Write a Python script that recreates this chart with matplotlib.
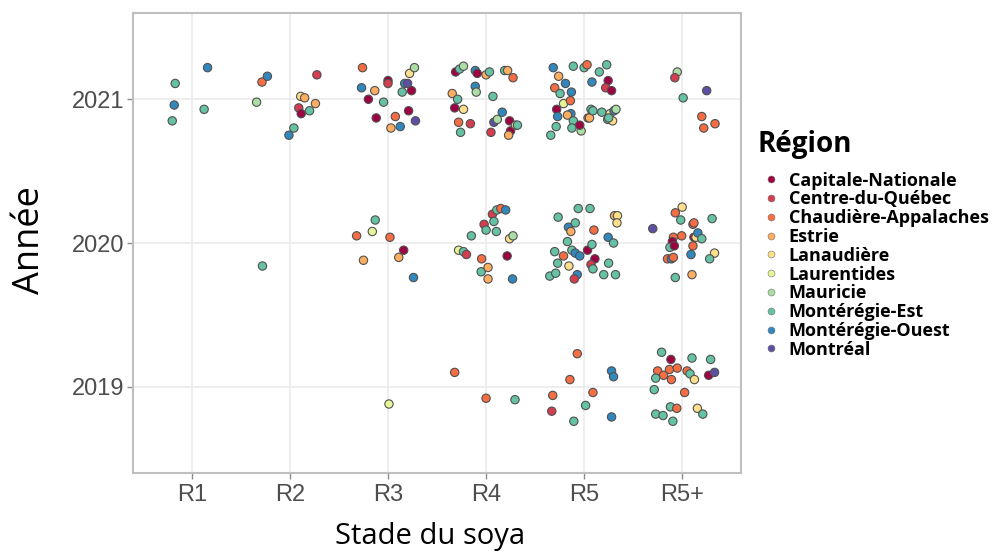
import matplotlib
matplotlib.use("Agg")
import matplotlib.pyplot as plt
from matplotlib.lines import Line2D

# ---------------- data ----------------
stages = ["R1", "R2", "R3", "R4", "R5", "R5+"]
years = [2019, 2020, 2021]
regions = ["Capitale-Nationale", "Centre-du-Québec", "Chaudière-Appalaches", "Estrie",
           "Lanaudière", "Laurentides", "Mauricie", "Montérégie-Est", "Montérégie-Ouest",
           "Montréal"]
region_codes = ["CN", "CQ", "CA", "ES", "LA", "LU", "MA", "ME", "MO", "MT"]
region_colors = ["#9E0142", "#D53E4F", "#F46D43", "#FDAE61", "#FEE08B",
                 "#E6F598", "#ABDDA4", "#66C2A5", "#3288BD", "#5E4FA2"]

# observations: stage, region code, stage jitter, jittered year
obs_stage = (
    ["R1"] * 5
    + ["R2"] * 13
    + ["R3"] * 28
    + ["R4"] * 52
    + ["R5"] * 80
    + ["R5+"] * 57
)
obs_region = [
    # R1
    "ME", "MO", "ME", "MO", "ME",
    # R2
    "MA", "CA", "MO", "MO", "ME", "CQ", "CN", "LA", "ES", "ME", "ES", "CQ", "ME",
    # R3
    "CA", "MO", "ES", "CN", "ME", "CN", "CN", "CQ", "CA", "ES", "MO", "MO", "MT", "ME",
    "CN", "CN", "MT", "LA", "MA",
    "CA", "ME", "LU", "CA", "ES", "CN", "ES", "MO",
    "LU",
    # R4
    "ES", "ME", "CN", "ME", "MA", "CN", "LA", "CA", "ME", "CQ", "MO", "CN", "MO", "MA",
    "ES", "ME", "ME", "CQ", "MT", "MA", "MO", "ME", "ES", "CA", "CN", "CN", "ES", "LA", "ME",
    "LU", "ME", "CQ", "ME", "CA", "ME", "ES", "ES", "CQ", "ME", "CQ", "ME", "ME", "CA",
    "MO", "ME", "CN", "MO", "LA", "MA",
    "CA", "CA", "ME",
    # R5
    "ME", "ME", "CN", "MO", "CA", "ES", "ME", "LU", "MO", "CA", "MO", "MO", "ES", "ME",
    "ME", "MA", "CN", "ME", "ME", "CA", "CA", "ES", "ME", "ME", "MO", "ME", "ME", "CN",
    "CQ", "CN", "ME", "ME", "LA", "LA", "MO", "MA", "ME",
    "ME", "ME", "ME", "ME", "ME", "CA", "LA", "ME", "MO", "ES", "ME", "ME", "ME", "MO",
    "MO", "MO", "CQ", "CN", "ME", "ME", "CA", "CN", "CQ", "ME", "ME", "ME", "ME", "MO",
    "ME", "ES", "LA", "LA",
    "CA", "CQ", "ME", "CA", "CA", "ME", "CA", "MO", "MO", "MO",
    # R5+
    "MO", "MA", "CQ", "ME", "MT", "CA", "CA", "CA",
    "MT", "CA", "LA", "ME", "CA", "CA", "CA", "CA", "CN", "ME", "CN", "CN", "LA", "MO",
    "ME", "CA", "CA", "MO", "CA", "ME", "ES", "MO", "ME", "LA", "ME",
    "ME", "CN", "CA", "CA", "CA", "CA", "ME", "CA", "CA", "ME", "LA", "ME", "ME", "CN",
    "MT", "ME", "CA", "ME", "CA", "ME", "ME", "ME", "LA", "ME",
]
obs_jitter = [
    # R1
    -0.17, -0.18, -0.20, 0.16, 0.125,
    # R2
    -0.34, -0.285, -0.23, -0.01, 0.04, 0.09, 0.115, 0.11, 0.15, 0.20, 0.26, 0.275, -0.28,
    # R3
    -0.26, -0.27, -0.135, -0.20, -0.045, -0.12, 0.0, 0.0, 0.075, 0.03, 0.125, 0.17, 0.20,
    0.145, 0.24, 0.21, 0.28, 0.22, 0.27,
    -0.32, -0.13, -0.16, 0.02, -0.25, 0.16, 0.11, 0.26,
    0.01,
    # R4
    -0.345, -0.29, -0.31, -0.27, -0.23, -0.32, -0.23, -0.28, -0.26, -0.16, -0.11, -0.09,
    -0.11, -0.10, 0.0, 0.035, 0.07, 0.05, 0.08, 0.115, 0.165, 0.19, 0.22, 0.275, 0.24,
    0.25, 0.23, 0.30, 0.32,
    -0.28, -0.23, -0.20, -0.15, -0.045, -0.05, 0.02, 0.02, -0.02, 0.0, 0.065, 0.08, 0.11,
    0.15, 0.20, 0.105, 0.215, 0.27, 0.24, 0.275,
    -0.32, 0.0, 0.295,
    # R5
    -0.34, -0.285, -0.28, -0.27, -0.30, -0.26, -0.245, -0.21, -0.19, -0.14, -0.13, -0.135,
    -0.17, -0.11, -0.125, -0.03, -0.045, -0.11, 0.0, 0.03, 0.04, 0.055, 0.07, 0.09, 0.08,
    0.155, 0.23, 0.245, 0.22, 0.28, 0.18, 0.24, 0.265, 0.29, 0.305, 0.325, 0.25,
    -0.35, -0.29, -0.27, -0.30, -0.265, -0.21, -0.155, -0.17, -0.16, -0.135, -0.09, -0.06,
    -0.125, -0.09, -0.045, -0.07, -0.10, 0.035, 0.08, 0.06, 0.10, 0.11, 0.07, 0.09, 0.20,
    0.25, 0.32, 0.245, 0.30, 0.31, 0.34, 0.335,
    -0.32, -0.33, -0.105, -0.145, -0.07, 0.015, 0.09, 0.28, 0.30, 0.28,
    # R5+
    -0.315, -0.05, -0.075, 0.01, 0.25, 0.20, 0.22, 0.335,
    -0.30, -0.07, 0.0, -0.015, 0.11, 0.12, -0.005, -0.09, -0.10, -0.125, -0.08, 0.12,
    0.14, 0.16, 0.20, 0.11, -0.15, -0.11, -0.09, -0.07, 0.10, 0.09, 0.305, 0.33, 0.28,
    -0.21, -0.115, -0.25, -0.13, -0.05, -0.19, -0.27, -0.11, 0.05, 0.08, 0.125, 0.10,
    0.29, 0.27, 0.33, -0.285, 0.025, -0.12, -0.055, -0.27, -0.195, -0.095, 0.155, 0.21,
]
obs_year = [
    # R1
    2021.11, 2020.96, 2020.85, 2021.22, 2020.93,
    # R2
    2020.98, 2021.12, 2021.16, 2020.75, 2020.80, 2020.94, 2020.90, 2021.02, 2021.01,
    2020.92, 2020.97, 2021.17, 2019.84,
    # R3
    2021.22, 2021.08, 2021.06, 2021.00, 2020.98, 2020.87, 2021.13, 2021.11, 2020.88,
    2020.80, 2020.81, 2021.11, 2021.11, 2021.05, 2021.06, 2020.92, 2020.85, 2021.18, 2021.22,
    2020.05, 2020.16, 2020.08, 2020.04, 2019.88, 2019.95, 2019.90, 2019.76,
    2018.88,
    # R4
    2021.04, 2021.00, 2021.19, 2021.21, 2021.23, 2020.94, 2020.93, 2020.84, 2020.77,
    2020.83, 2021.20, 2021.18, 2021.09, 2021.05, 2021.17, 2021.19, 2021.02, 2020.77,
    2020.84, 2020.86, 2020.91, 2021.20, 2021.20, 2021.15, 2020.85, 2020.78, 2020.75,
    2020.82, 2020.82,
    2019.95, 2019.94, 2019.92, 2020.05, 2019.89, 2019.80, 2019.83, 2019.75, 2020.13,
    2020.09, 2020.20, 2020.15, 2020.23, 2020.24, 2020.23, 2020.08, 2019.91, 2019.75,
    2020.03, 2020.05,
    2019.10, 2018.92, 2018.91,
    # R5
    2020.75, 2020.81, 2020.93, 2020.88, 2021.08, 2021.16, 2021.04, 2020.97, 2021.11,
    2020.99, 2021.05, 2020.90, 2020.89, 2020.85, 2020.80, 2020.78, 2020.82, 2021.23,
    2021.22, 2021.24, 2020.87, 2020.87, 2020.93, 2020.92, 2021.12, 2021.19, 2021.24,
    2021.13, 2021.08, 2021.06, 2020.91, 2020.86, 2020.90, 2020.85, 2020.92, 2020.93, 2020.87,
    2019.77, 2019.79, 2019.86, 2019.94, 2020.18, 2019.91, 2019.84, 2020.01, 2020.11,
    2020.08, 2020.14, 2020.24, 2019.95, 2019.93, 2019.91, 2019.78, 2019.75, 2019.95,
    2019.99, 2020.24, 2020.09, 2019.89, 2019.85, 2019.82, 2019.78, 2019.86, 2019.78,
    2020.04, 2020.00, 2020.19, 2020.19, 2020.14,
    2018.94, 2018.83, 2018.76, 2019.05, 2019.23, 2018.87, 2018.96, 2019.11, 2019.07, 2018.79,
    # R5+
    2021.22, 2021.19, 2021.15, 2021.01, 2021.06, 2020.88, 2020.80, 2020.83,
    2020.10, 2020.21, 2020.25, 2020.16, 2020.13, 2020.14, 2020.05, 2020.04, 2020.01,
    2019.97, 2019.98, 2020.04, 2020.04, 2020.07, 2020.03, 2019.98, 2019.89, 2019.89,
    2019.90, 2019.76, 2019.78, 2019.92, 2020.17, 2019.93, 2019.89,
    2019.24, 2019.19, 2019.11, 2019.12, 2019.13, 2019.08, 2019.06, 2019.05, 2019.11,
    2019.09, 2019.05, 2019.20, 2019.19, 2019.08, 2019.10, 2018.98, 2018.96, 2018.86,
    2018.85, 2018.81, 2018.80, 2018.76, 2018.85, 2018.81,
]

# ---------------- figure ----------------
fig = plt.figure(figsize=(9.98, 5.52), dpi=100)
ax = fig.add_axes([0.1333, 0.1431, 0.6092, 0.8333])

stage_pos = {s: i + 1 for i, s in enumerate(stages)}
color_of = dict(zip(region_codes, region_colors))

xs = [stage_pos[s] + j for s, j in zip(obs_stage, obs_jitter)]
cs = [color_of[r] for r in obs_region]
ax.scatter(xs, obs_year, s=36, c=cs, edgecolors="#505050", linewidths=0.8, zorder=3)

ax.set_xlim(0.4, 6.6)
ax.set_ylim(2018.4, 2021.6)
ax.set_xticks(range(1, len(stages) + 1))
ax.set_xticklabels(stages)
ax.set_yticks(years)
ax.set_yticklabels([str(y) for y in years])

ax.grid(True, color="#EBEBEB", linewidth=1.2, zorder=0)
ax.set_axisbelow(True)
for sp in ax.spines.values():
    sp.set_color("#BFBFBF")
    sp.set_linewidth(1.5)
ax.tick_params(axis="both", colors="#8C8C8C", length=4, width=1,
               labelsize=17, labelcolor="#4D4D4D")
for lab in ax.get_xticklabels() + ax.get_yticklabels():
    lab.set_family("Liberation Sans")
ax.tick_params(axis="x", pad=4)
ax.tick_params(axis="y", pad=2)

fig.text(0.431, 8 / 552, "Stade du soya", family="Open Sans", fontsize=21,
         ha="center", va="baseline", color="black")
fig.text(0.030, 0.565, "Année", family="Open Sans", fontsize=26, rotation=90,
         ha="center", va="center", color="black")

# legend
fig.text(757 / 998, 1 - 152 / 552, "Région", family="Open Sans", fontweight="bold",
         fontsize=20, ha="left", va="baseline", color="black")
handles = [Line2D([0], [0], marker="o", linestyle="none", markersize=5,
                  markerfacecolor=c, markeredgecolor="#707070", markeredgewidth=0.4)
           for c in region_colors]
leg = fig.legend(handles, regions, loc="upper left", bbox_to_anchor=(761.5 / 998, 1 - 171.5 / 552),
                 frameon=False, handlelength=1.0, handletextpad=0.5,
                 labelspacing=0.045, borderaxespad=0, borderpad=0,
                 prop={"family": "Open Sans", "weight": "bold", "size": 13})

fig.savefig("out.png", dpi=100)
